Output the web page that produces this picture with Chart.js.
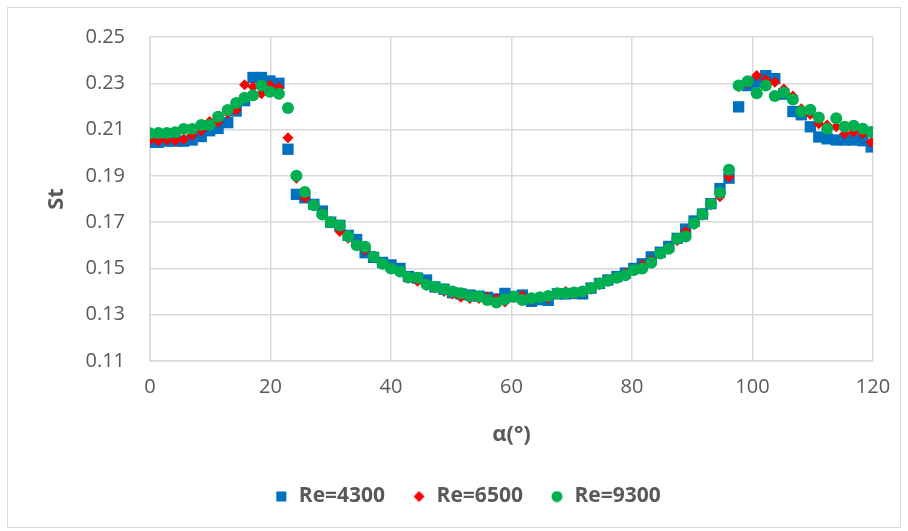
<!DOCTYPE html>
<html>
<head>
<meta charset="utf-8">
<script src="https://cdn.jsdelivr.net/npm/chart.js@4.4.1/dist/chart.umd.min.js"></script>
<style>
  html, body { margin: 0; padding: 0; background: #ffffff; }
  #frame { position: absolute; left: 7px; top: 7px; width: 892px; height: 519px; border: 1px solid #d9d9d9; }
  #c { position: absolute; left: 0; top: 0; }
</style>
</head>
<body>
<div id="frame"></div>
<canvas id="c" width="908" height="531"></canvas>
<script>
// Angle α (°)
const alpha = [0,1.4,2.8,4.2,5.6,7.0,8.5,9.9,11.3,12.9,
  14.3,15.7,17.1,18.5,19.9,21.4,22.9,24.3,25.7,27.2,
  28.6,30.0,31.5,32.9,34.3,35.7,37.1,38.6,40.0,41.5,
  42.9,44.4,45.9,47.3,48.8,50.2,51.6,53.1,54.6,56.0,
  57.5,58.9,60.4,61.8,63.3,64.7,66.1,67.6,69.0,70.4,
  71.8,73.2,74.6,76.0,77.5,78.9,80.3,81.7,83.2,84.7,
  86.1,87.5,88.9,90.3,91.7,93.1,94.6,96.1,97.7,99.2,
  100.7,102.2,103.7,105.2,106.7,108.1,109.6,111.0,112.4,113.9,
  115.3,116.8,118.3,119.7];

const re4300 = [0.2045,0.2045,0.205,0.205,0.205,0.2055,0.207,0.2095,0.2105,0.213,
  0.218,0.2225,0.2325,0.2325,0.231,0.2300,0.2015,0.182,0.1805,0.1777,
  0.1748,0.170,0.1686,0.1643,0.1625,0.1568,0.1548,0.1526,0.1515,0.150,
  0.1465,0.1458,0.145,0.142,0.141,0.1395,0.139,0.1385,0.138,0.1375,
  0.1368,0.1392,0.1378,0.1385,0.1358,0.1365,0.1362,0.139,0.139,0.1392,
  0.139,0.1415,0.1435,0.145,0.1465,0.148,0.150,0.152,0.155,0.157,
  0.1595,0.163,0.167,0.1705,0.1735,0.178,0.1845,0.189,0.2198,0.229,
  0.2305,0.2333,0.232,0.2253,0.2178,0.2164,0.2112,0.2068,0.206,0.2055,
  0.2055,0.2055,0.2052,0.2025];

const re6500 = [0.2055,0.2052,0.2055,0.2053,0.2058,0.2075,0.2095,0.2135,0.2133,0.217,
  0.2185,0.2294,0.2285,0.2255,0.2292,0.2282,0.2065,0.189,0.1805,0.1775,
  0.174,0.170,0.166,0.163,0.1605,0.158,0.155,0.152,0.1505,0.149,
  0.146,0.1445,0.1435,0.1415,0.140,0.139,0.1375,0.137,0.137,0.1375,
  0.137,0.1355,0.1375,0.1382,0.1365,0.1375,0.137,0.139,0.140,0.139,
  0.1395,0.141,0.143,0.1445,0.146,0.148,0.149,0.1515,0.1535,0.1565,
  0.159,0.162,0.166,0.169,0.173,0.1775,0.181,0.1895,0.2285,0.230,
  0.2334,0.2315,0.2305,0.2275,0.2245,0.219,0.2165,0.2125,0.212,0.2112,
  0.2082,0.209,0.2082,0.2045];

const re9300 = [0.2084,0.2085,0.2085,0.2088,0.2103,0.2103,0.212,0.212,0.2155,0.2185,
  0.2215,0.2237,0.2248,0.229,0.2263,0.2255,0.2193,0.190,0.183,0.1773,
  0.1733,0.170,0.1686,0.1639,0.160,0.1594,0.155,0.152,0.150,0.1487,
  0.1461,0.146,0.143,0.1421,0.141,0.140,0.1393,0.1381,0.1379,0.1364,
  0.1353,0.1367,0.1379,0.1364,0.1371,0.1376,0.1381,0.1393,0.1393,0.1396,
  0.140,0.1414,0.1435,0.1447,0.146,0.147,0.1493,0.150,0.1524,0.1564,
  0.1585,0.1628,0.1638,0.1695,0.1735,0.178,0.1827,0.1926,0.229,0.2309,
  0.2257,0.229,0.2245,0.226,0.223,0.2178,0.2186,0.2152,0.2104,0.2149,
  0.2112,0.2117,0.2104,0.209];

const seriesNames = ['Re=4300', 'Re=6500', 'Re=9300'];
const xTicks = [0, 20, 40, 60, 80, 100, 120];
const yTicks = [0.11, 0.13, 0.15, 0.17, 0.19, 0.21, 0.23, 0.25];

const toPts = arr => alpha.map((x, i) => ({ x: x, y: arr[i] }));
const FONT = '"Open Sans", "Noto Sans", sans-serif';
const GRAY = '#595959';
const GRID = '#d9d9d9';
const COLORS = ['#0070C0', '#FF0000', '#00B050'];

// small legend marker images
function marker(kind, color) {
  const c = document.createElement('canvas');
  c.width = 12; c.height = 12;
  const g = c.getContext('2d');
  g.fillStyle = color;
  g.beginPath();
  if (kind === 'rect') { g.rect(1, 1, 10, 10); }
  else if (kind === 'rectRot') { g.moveTo(6, 0.5); g.lineTo(11.5, 6); g.lineTo(6, 11.5); g.lineTo(0.5, 6); g.closePath(); }
  else { g.arc(6, 6, 5.5, 0, Math.PI * 2); }
  g.fill();
  return c;
}
const legendMarkers = [marker('rect', COLORS[0]), marker('rectRot', COLORS[1]), marker('circle', COLORS[2])];

const legendShift = {
  id: 'legendShift',
  afterLayout(chart) {
    if (chart.legend) { chart.legend.left += 31; chart.legend.right += 31; }
  }
};

new Chart(document.getElementById('c'), {
  type: 'scatter',
  data: {
    datasets: [
      { label: seriesNames[0], data: toPts(re4300), pointStyle: 'rect', pointRadius: 8, pointHoverRadius: 8,
        backgroundColor: COLORS[0], borderColor: COLORS[0], borderWidth: 0, order: 3 },
      { label: seriesNames[1], data: toPts(re6500), pointStyle: 'rectRot', pointRadius: 5.5, pointHoverRadius: 5.5,
        backgroundColor: COLORS[1], borderColor: COLORS[1], borderWidth: 0, order: 2 },
      { label: seriesNames[2], data: toPts(re9300), pointStyle: 'circle', pointRadius: 6, pointHoverRadius: 6,
        backgroundColor: COLORS[2], borderColor: COLORS[2], borderWidth: 0, order: 1 }
    ]
  },
  plugins: [legendShift],
  options: {
    responsive: false,
    animation: false,
    devicePixelRatio: 1,
    layout: { padding: { left: 0, right: 35, top: 35, bottom: 14 } },
    plugins: {
      tooltip: { enabled: false },
      legend: {
        position: 'bottom',
        labels: {
          usePointStyle: true,
          boxWidth: 14, boxHeight: 12,
          padding: 27,
          color: GRAY,
          font: { family: FONT, size: 21, weight: 'bold' },
          sort: (a, b) => a.datasetIndex - b.datasetIndex,
          generateLabels: (chart) => {
            const items = Chart.defaults.plugins.legend.labels.generateLabels(chart);
            items.forEach(it => { it.pointStyle = legendMarkers[it.datasetIndex]; });
            return items;
          }
        }
      }
    },
    scales: {
      x: {
        type: 'linear',
        min: 0, max: 120,
        afterBuildTicks: s => { s.ticks = xTicks.map(v => ({ value: v })); },
        afterFit: s => { s.height = 98; },
        ticks: { color: GRAY, font: { family: FONT, size: 20 }, padding: 14 },
        grid: { color: GRID, lineWidth: 1.5, drawTicks: false },
        border: { color: GRID, width: 1.5 },
        title: { display: true, text: 'α(°)', color: GRAY, font: { family: FONT, size: 22, weight: 'bold' }, padding: { top: 0, bottom: 11 } }
      },
      y: {
        type: 'linear',
        min: 0.11, max: 0.25,
        afterBuildTicks: s => { s.ticks = yTicks.map(v => ({ value: v })); },
        afterFit: s => { s.width = 150; },
        ticks: { color: GRAY, font: { family: FONT, size: 20 }, padding: 25, callback: v => Number(v).toFixed(2) },
        grid: { color: GRID, lineWidth: 1.5, drawTicks: false },
        border: { color: GRID, width: 1.5 },
        title: { display: true, text: 'St', color: GRAY, font: { family: FONT, size: 22, weight: 'bold' }, padding: { top: 44, bottom: 0 } }
      }
    }
  }
});
</script>
</body>
</html>
